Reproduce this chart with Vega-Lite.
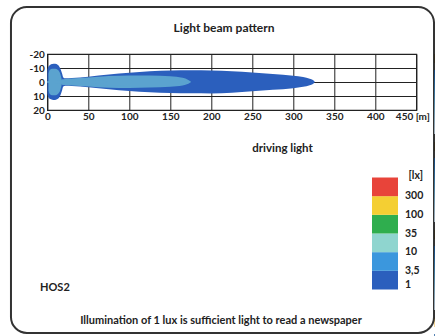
{
  "$schema": "https://vega.github.io/schema/vega-lite/v6.json",
  "usermeta": {"embedOptions": {"actions": false}},
  "width": 369,
  "height": 56,
  "autosize": "none",
  "padding": {"left": 47.3, "top": 54, "right": 18.7, "bottom": 226},
  "background": "white",
  "resolve": {"axis": {"x": "independent", "y": "independent"}},
  "config": {
    "font": "Lato",
    "view": {"stroke": "#222", "strokeWidth": 1.2},
    "axis": {"labelFont": "Lato", "labelFontWeight": "bold", "labelFontSize": 10, "labelColor": "#222", "titleFont": "Lato", "titleFontWeight": "bold", "titleColor": "#222", "gridColor": "#222", "gridOpacity": 1, "gridWidth": 1, "domain": false, "ticks": false, "labelOverlap": false, "labelFlush": false},
    "legend": {"labelFont": "Lato", "labelFontWeight": "bold", "titleFont": "Lato", "titleFontWeight": "bold"}
  },
  "datasets": {
    "lux1": [
      {"level": 1, "lux": 1, "x": 0, "lo": -8, "hi": 8},
      {"level": 1, "lux": 1, "x": 1, "lo": -10.5, "hi": 10.5},
      {"level": 1, "lux": 1, "x": 3, "lo": -12, "hi": 12},
      {"level": 1, "lux": 1, "x": 6, "lo": -12.8, "hi": 12.6},
      {"level": 1, "lux": 1, "x": 9.5, "lo": -13, "hi": 12.8},
      {"level": 1, "lux": 1, "x": 13, "lo": -12.2, "hi": 12},
      {"level": 1, "lux": 1, "x": 16, "lo": -9.5, "hi": 9.5},
      {"level": 1, "lux": 1, "x": 18, "lo": -6, "hi": 6},
      {"level": 1, "lux": 1, "x": 19.5, "lo": -3.2, "hi": 3.2},
      {"level": 1, "lux": 1, "x": 22, "lo": -2.6, "hi": 2.6},
      {"level": 1, "lux": 1, "x": 30, "lo": -2.8, "hi": 2.8},
      {"level": 1, "lux": 1, "x": 50, "lo": -3.8, "hi": 3.7},
      {"level": 1, "lux": 1, "x": 75, "lo": -5.3, "hi": 5.2},
      {"level": 1, "lux": 1, "x": 100, "lo": -6.6, "hi": 6.5},
      {"level": 1, "lux": 1, "x": 125, "lo": -7.6, "hi": 7.3},
      {"level": 1, "lux": 1, "x": 150, "lo": -8.2, "hi": 7.8},
      {"level": 1, "lux": 1, "x": 175, "lo": -8.4, "hi": 8.1},
      {"level": 1, "lux": 1, "x": 200, "lo": -8.2, "hi": 8.2},
      {"level": 1, "lux": 1, "x": 225, "lo": -7.7, "hi": 7.6},
      {"level": 1, "lux": 1, "x": 250, "lo": -6.8, "hi": 6.6},
      {"level": 1, "lux": 1, "x": 275, "lo": -5.8, "hi": 5.6},
      {"level": 1, "lux": 1, "x": 300, "lo": -4.5, "hi": 4.4},
      {"level": 1, "lux": 1, "x": 312, "lo": -3.5, "hi": 3.4},
      {"level": 1, "lux": 1, "x": 320, "lo": -2.4, "hi": 2.3},
      {"level": 1, "lux": 1, "x": 324, "lo": -1.4, "hi": 1.4},
      {"level": 1, "lux": 1, "x": 326, "lo": -0.4, "hi": 0.4}
    ],
    "lux3_5bulb": [
      {"level": 2, "lux": 3.5, "x": 1.5, "lo": -6, "hi": 6},
      {"level": 2, "lux": 3.5, "x": 3, "lo": -8.5, "hi": 8.5},
      {"level": 2, "lux": 3.5, "x": 6, "lo": -9.5, "hi": 9.5},
      {"level": 2, "lux": 3.5, "x": 9.5, "lo": -9.5, "hi": 9.5},
      {"level": 2, "lux": 3.5, "x": 13, "lo": -8.5, "hi": 8.5},
      {"level": 2, "lux": 3.5, "x": 16, "lo": -5.5, "hi": 5.5},
      {"level": 2, "lux": 3.5, "x": 17.5, "lo": -2, "hi": 2}
    ],
    "lux3_5": [
      {"level": 2, "lux": 3.5, "x": 17.5, "lo": -2, "hi": 2},
      {"level": 2, "lux": 3.5, "x": 22, "lo": -2.2, "hi": 2.2},
      {"level": 2, "lux": 3.5, "x": 30, "lo": -2.5, "hi": 2.5},
      {"level": 2, "lux": 3.5, "x": 50, "lo": -3.3, "hi": 3.2},
      {"level": 2, "lux": 3.5, "x": 75, "lo": -4.3, "hi": 4.1},
      {"level": 2, "lux": 3.5, "x": 100, "lo": -4.7, "hi": 4.3},
      {"level": 2, "lux": 3.5, "x": 125, "lo": -4.7, "hi": 4},
      {"level": 2, "lux": 3.5, "x": 150, "lo": -4.1, "hi": 3.4},
      {"level": 2, "lux": 3.5, "x": 165, "lo": -3, "hi": 2.5},
      {"level": 2, "lux": 3.5, "x": 172, "lo": -1.5, "hi": 1.2},
      {"level": 2, "lux": 3.5, "x": 175, "lo": -0.3, "hi": 0.2}
    ],
    "lux10": [
      {"level": 3, "lux": 10, "x": 19, "lo": -1.2, "hi": 1.2},
      {"level": 3, "lux": 10, "x": 30, "lo": -1.9, "hi": 1.9},
      {"level": 3, "lux": 10, "x": 50, "lo": -2.5, "hi": 2.4},
      {"level": 3, "lux": 10, "x": 75, "lo": -2.9, "hi": 2.6},
      {"level": 3, "lux": 10, "x": 90, "lo": -2.7, "hi": 2.4},
      {"level": 3, "lux": 10, "x": 100, "lo": -1.9, "hi": 1.6},
      {"level": 3, "lux": 10, "x": 104, "lo": -0.4, "hi": 0.4}
    ],
    "lux35": [
      {"level": 4, "lux": 35, "x": 14, "lo": -1.1, "hi": 1.1},
      {"level": 4, "lux": 35, "x": 25, "lo": -1.4, "hi": 1.4},
      {"level": 4, "lux": 35, "x": 45, "lo": -1.5, "hi": 1.5},
      {"level": 4, "lux": 35, "x": 60, "lo": -1.3, "hi": 1.3},
      {"level": 4, "lux": 35, "x": 70, "lo": -0.8, "hi": 0.8},
      {"level": 4, "lux": 35, "x": 74, "lo": -0.2, "hi": 0.2}
    ],
    "lux100": [
      {"level": 5, "lux": 100, "x": 10, "lo": -1, "hi": 1},
      {"level": 5, "lux": 100, "x": 20, "lo": -1.2, "hi": 1.2},
      {"level": 5, "lux": 100, "x": 28, "lo": -1.1, "hi": 1.1},
      {"level": 5, "lux": 100, "x": 32, "lo": -0.4, "hi": 0.4}
    ],
    "lux300": [
      {"level": 6, "lux": 300, "x": 0, "lo": -0.7, "hi": 0.7},
      {"level": 6, "lux": 300, "x": 20, "lo": -0.7, "hi": 0.7},
      {"level": 6, "lux": 300, "x": 24, "lo": -0.2, "hi": 0.2}
    ]
  },
  "layer": [
    {
      "data": {"name": "lux1"},
      "mark": {"type": "area", "interpolate": "monotone", "orient": "vertical"},
      "encoding": {
        "x": {"field": "x", "type": "quantitative", "scale": {"domain": [0, 450], "nice": false, "zero": false},
          "axis": {"values": [0, 50, 100, 150, 200, 250, 300, 350, 400, 450], "labelExpr": "datum.value == 450 ? '450 [m]' : datum.label", "labelOffset": {"condition": {"test": "datum.value == 450", "value": -4}, "value": 0}, "labelPadding": 1, "title": "driving light", "titleFontSize": 11.5, "titleX": 234.7, "titleY": 38, "titleBaseline": "middle", "titleAlign": "center"}},
        "y": {"field": "lo", "type": "quantitative", "stack": null, "scale": {"domain": [-20, 20], "reverse": true, "nice": false, "zero": false},
          "axis": {"values": [-20, -10, 0, 10, 20], "labelPadding": 3, "title": null, "labelExpr": "replace(datum.label, '\u2212', '-')"}},
        "y2": {"field": "hi"},
        "color": {"field": "level", "type": "quantitative",
          "scale": {"type": "threshold", "domain": [2, 3, 4, 5, 6], "range": ["#2b5fbd", "#3b97dd", "#8fd5cf", "#2fae4e", "#f4cf33", "#e8443a"]},
          "legend": {"type": "gradient", "orient": "none", "legendX": 324.7, "legendY": 117, "direction": "vertical", "gradientLength": 112, "gradientThickness": 26, "title": "[lx]", "titleFontSize": 10.5, "titleColor": "#222", "titleAnchor": "end", "titlePadding": -4, "labelFontSize": 10.5, "labelColor": "#222", "labelOffset": 7, "labelOverlap": false, "gradientStrokeWidth": 0,
            "labelExpr": "datum.value == 2 ? '3,5' : datum.value == 3 ? '10' : datum.value == 4 ? '35' : datum.value == 5 ? '100' : datum.value == 6 ? '300' : '1'"}}
      }
    },
    {
      "data": {"name": "lux3_5bulb"},
      "mark": {"type": "area", "interpolate": "monotone", "orient": "vertical"},
      "encoding": {"x": {"field": "x", "type": "quantitative", "axis": null}, "y": {"field": "lo", "type": "quantitative", "stack": null, "axis": null}, "y2": {"field": "hi"}, "color": {"field": "level", "type": "quantitative"}}
    },
    {
      "data": {"name": "lux3_5"},
      "mark": {"type": "area", "interpolate": "monotone", "orient": "vertical"},
      "encoding": {"x": {"field": "x", "type": "quantitative", "axis": null}, "y": {"field": "lo", "type": "quantitative", "stack": null, "axis": null}, "y2": {"field": "hi"}, "color": {"field": "level", "type": "quantitative"}}
    },
    {
      "data": {"name": "lux10"},
      "mark": {"type": "area", "interpolate": "monotone", "orient": "vertical"},
      "encoding": {"x": {"field": "x", "type": "quantitative", "axis": null}, "y": {"field": "lo", "type": "quantitative", "stack": null, "axis": null}, "y2": {"field": "hi"}, "color": {"field": "level", "type": "quantitative"}}
    },
    {
      "data": {"name": "lux35"},
      "mark": {"type": "area", "interpolate": "monotone", "orient": "vertical"},
      "encoding": {"x": {"field": "x", "type": "quantitative", "axis": null}, "y": {"field": "lo", "type": "quantitative", "stack": null, "axis": null}, "y2": {"field": "hi"}, "color": {"field": "level", "type": "quantitative"}}
    },
    {
      "data": {"name": "lux100"},
      "mark": {"type": "area", "interpolate": "monotone", "orient": "vertical"},
      "encoding": {"x": {"field": "x", "type": "quantitative", "axis": null}, "y": {"field": "lo", "type": "quantitative", "stack": null, "axis": null}, "y2": {"field": "hi"}, "color": {"field": "level", "type": "quantitative"}}
    },
    {
      "data": {"name": "lux300"},
      "mark": {"type": "area", "interpolate": "monotone", "orient": "vertical"},
      "encoding": {"x": {"field": "x", "type": "quantitative", "axis": null}, "y": {"field": "lo", "type": "quantitative", "stack": null, "axis": null}, "y2": {"field": "hi"}, "color": {"field": "level", "type": "quantitative"}}
    },
    {
      "data": {"values": [{"text": "Light beam pattern"}]},
      "mark": {"type": "text", "font": "Lato", "fontWeight": "bold", "fontSize": 12, "color": "#222", "align": "center", "baseline": "middle", "clip": false},
      "encoding": {"x": {"datum": 215.5, "type": "quantitative", "axis": null}, "y": {"datum": -38.6, "type": "quantitative", "axis": null}, "text": {"field": "text"}}
    },
    {
      "data": {"values": [{"text": "HOS2"}]},
      "mark": {"type": "text", "font": "Lato", "fontWeight": "bold", "fontSize": 11, "color": "#222", "align": "left", "baseline": "middle", "clip": false},
      "encoding": {"x": {"datum": -8.9, "type": "quantitative", "axis": null}, "y": {"datum": 147.1, "type": "quantitative", "axis": null}, "text": {"field": "text"}}
    },
    {
      "data": {"values": [{"text": "Illumination of 1 lux is sufficient light to read a newspaper"}]},
      "mark": {"type": "text", "font": "Lato", "fontWeight": "bold", "fontSize": 11, "color": "#222", "align": "center", "baseline": "middle", "clip": false},
      "encoding": {"x": {"datum": 211.8, "type": "quantitative", "axis": null}, "y": {"datum": 170.7, "type": "quantitative", "axis": null}, "text": {"field": "text"}}
    },
    {
      "data": {"values": [{}]},
      "mark": {"type": "rect", "filled": false, "stroke": "#333", "strokeWidth": 2, "cornerRadius": 16, "clip": false},
      "encoding": {
        "x": {"datum": -44.3, "type": "quantitative", "axis": null},
        "x2": {"datum": 471.6},
        "y": {"datum": -53.6, "type": "quantitative", "axis": null},
        "y2": {"datum": 179.3}
      }
    }
  ]
}
